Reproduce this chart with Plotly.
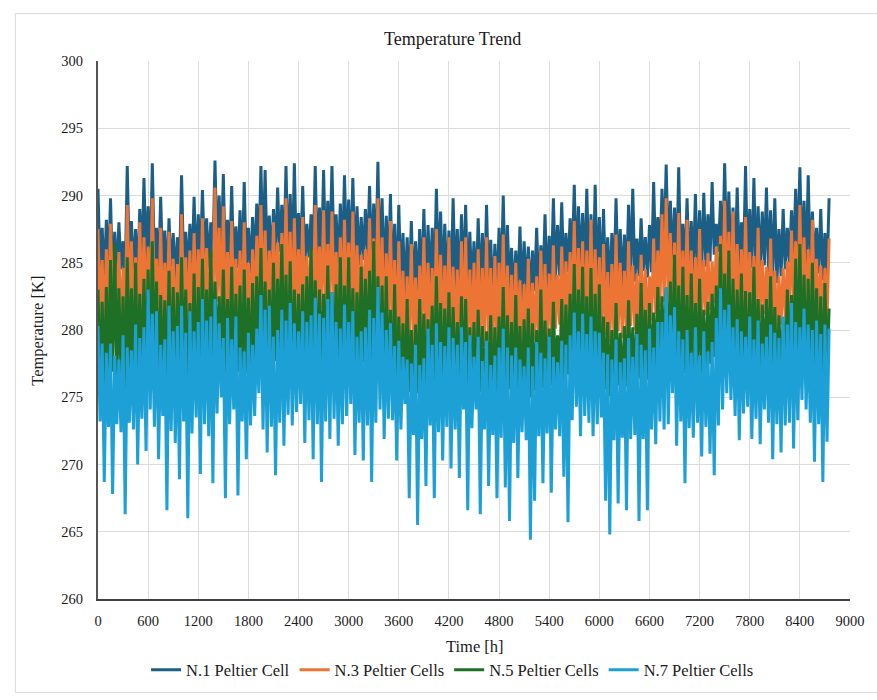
import plotly.graph_objects as go

STEP_H = 25

series_names = ["N.1 Peltier Cell", "N.3 Peltier Cells", "N.5 Peltier Cells", "N.7 Peltier Cells"]
series_colors = ["#1B5E86", "#EC7434", "#1E7026", "#1CA0D6"]

x_ticks = [0, 600, 1200, 1800, 2400, 3000, 3600, 4200, 4800, 5400, 6000, 6600, 7200, 7800, 8400, 9000]
y_ticks = [260, 265, 270, 275, 280, 285, 290, 295, 300]

n1_high = [
    290.5, 287.6, 288.2, 289.8, 287.3, 288.0, 286.6, 292.2,
    288.1, 287.5, 289.0, 291.3, 289.2, 292.4, 287.6, 289.9,
    287.4, 288.3, 287.2, 286.9, 291.5, 287.3, 287.9, 289.9,
    288.6, 290.4, 288.3, 288.0, 292.6, 290.0, 291.6, 288.2,
    290.7, 287.7, 288.9, 291.0, 287.6, 288.4, 289.4, 292.2,
    291.9, 288.5, 289.0, 290.6, 289.3, 292.2, 290.1, 292.4,
    288.7, 290.7, 287.9, 288.6, 292.2, 289.1, 291.9, 289.6,
    292.2, 288.6, 289.4, 291.5, 289.7, 291.3, 289.2, 288.4,
    289.0, 290.7, 289.4, 292.5, 289.8, 288.5, 290.1, 287.9,
    289.3, 287.2, 286.9, 288.1, 286.6, 287.5, 289.0, 287.8,
    287.6, 290.5, 288.8, 287.9, 287.4, 289.8, 287.5, 288.6,
    289.3, 287.3, 286.6, 288.3, 287.2, 289.3, 286.7, 286.4,
    287.6, 290.0, 287.8, 286.1, 285.9, 287.7, 286.6, 286.2,
    285.9, 287.6, 286.3, 288.6, 287.0, 289.8, 287.8, 289.5,
    287.2, 288.3, 290.8, 289.2, 288.7, 290.5, 288.6, 290.8,
    288.4, 289.0, 286.9, 287.2, 289.8, 287.5, 287.1, 289.3,
    290.5, 286.8, 288.3, 286.9, 287.8, 291.0, 288.4, 290.5,
    292.3, 289.6, 289.1, 292.1, 287.9, 289.8, 288.1, 290.1,
    288.9, 290.2, 288.6, 291.0, 287.9, 289.6, 292.4, 290.3,
    289.1, 290.6, 288.0, 292.2, 289.0, 291.3, 289.2, 288.8,
    290.6, 288.9, 289.8, 287.5, 289.0, 287.6, 288.9, 290.5,
    292.1, 289.6, 291.5, 288.8, 287.6, 289.0, 287.2, 289.8,
]
n1_low = [
    284.3, 283.6, 284.1, 283.4, 283.9, 284.5, 283.6, 284.8,
    284.2, 283.8, 284.6, 285.0, 284.4, 284.9, 283.9, 284.3,
    283.5, 284.0, 283.7, 284.3, 284.7, 284.0, 284.4, 284.1,
    284.8, 285.1, 284.5, 285.3, 285.7, 285.0, 284.4, 284.9,
    284.1, 284.6, 283.9, 284.5, 284.2, 285.0, 285.4, 285.1,
    284.6, 285.0, 285.3, 285.8, 285.2, 284.7, 284.4, 284.9,
    285.2, 284.8, 285.4, 285.0, 284.5, 285.1, 284.7, 285.5,
    285.1, 284.6, 285.0, 285.3, 284.7, 284.3, 284.8, 285.2,
    285.5, 285.0, 284.5, 283.9, 283.3, 283.6, 282.9, 282.6,
    283.0, 282.5, 282.8, 282.4, 282.7, 283.2, 282.8, 283.4,
    283.1, 283.6, 283.0, 283.3, 282.7, 283.1, 282.6, 283.0,
    282.5, 282.9, 282.3, 282.8, 282.4, 282.9, 282.2, 282.7,
    283.1, 282.6, 283.0, 282.3, 282.7, 282.2, 282.8, 282.4,
    282.9, 282.5, 283.1, 282.7, 283.3, 283.7, 284.0, 283.6,
    284.3, 284.7, 284.2, 284.6, 284.0, 283.5, 283.0, 283.3,
    282.8, 283.2, 282.7, 283.1, 283.5, 283.0, 283.4, 283.9,
    283.6, 284.0, 284.4, 283.9, 284.3, 284.8, 285.3, 285.7,
    285.2, 284.7, 284.3, 283.9, 284.4, 283.8, 284.2, 283.9,
    284.3, 284.7, 285.1, 285.6, 285.8, 285.3, 284.9, 284.5,
    284.8, 284.4, 284.7, 284.2, 284.6, 284.1, 284.5, 284.8,
    284.3, 283.9, 283.5, 284.0, 284.5, 285.0, 285.5, 285.2,
    284.9, 284.5, 284.1, 284.6, 284.2, 283.7, 284.1,
]

n3_high = [
    287.5, 285.2, 286.0, 287.9, 285.1, 285.8, 284.6, 289.3,
    286.6, 285.4, 288.0, 286.9, 286.2, 289.8, 285.3, 287.6,
    285.0, 287.3, 285.3, 284.9, 288.6, 285.4, 285.9, 287.2,
    286.0, 288.3, 286.1, 285.4, 290.6, 287.6, 289.2, 285.8,
    288.1, 285.3, 285.9, 288.0, 285.0, 286.0, 287.0, 289.3,
    287.4, 285.9, 288.0, 286.5, 287.2, 289.8, 287.3, 288.3,
    286.0, 288.4, 285.5, 286.0, 289.3, 286.2, 288.9, 286.4,
    288.8, 285.8, 286.9, 288.2, 286.5, 288.8, 286.3, 285.6,
    286.0, 288.3, 286.8, 289.8, 286.9, 285.7, 288.1, 285.2,
    286.6, 284.4, 284.0, 286.4, 283.9, 284.8, 286.9, 285.0,
    284.6, 287.5, 285.6, 284.8, 286.9, 284.7, 284.5, 286.6,
    286.9, 284.5, 285.0, 286.0, 284.6, 286.9, 284.6, 285.5,
    285.0, 287.1, 284.8, 284.1, 285.0, 283.7, 283.4, 285.3,
    283.5, 284.0, 285.9, 284.9, 284.2, 286.3, 284.1, 286.2,
    285.1, 285.8, 288.1, 286.1, 286.6, 285.9, 288.2, 286.0,
    285.4, 286.4, 284.3, 284.9, 287.1, 285.0, 284.4, 286.6,
    284.8, 284.2, 285.6, 284.5, 284.0, 286.8, 285.9, 288.6,
    289.8, 287.2, 286.5, 288.7, 285.9, 288.2, 285.9, 285.4,
    287.5, 285.2, 285.7, 285.1, 286.2, 287.0, 289.6, 287.3,
    288.8, 286.4, 286.0, 288.4, 285.8, 285.5, 287.6, 285.2,
    284.7, 286.8, 284.4, 284.0, 284.6, 285.1, 287.4, 286.6,
    289.3, 286.9, 286.0, 288.2, 285.3, 284.8, 284.6, 286.8,
]
n3_low = [
    281.0, 280.1, 280.7, 281.4, 280.5, 279.9, 281.1, 281.5,
    280.8, 280.3, 281.2, 281.7, 281.0, 281.9, 280.6, 280.0,
    280.4, 280.9, 280.2, 280.7, 281.3, 280.5, 280.1, 280.8,
    281.4, 281.8, 281.1, 281.6, 282.1, 281.3, 280.7, 281.2,
    280.5, 281.1, 280.4, 280.9, 280.6, 281.3, 281.8, 281.5,
    281.0, 281.5, 281.9, 282.3, 281.7, 281.1, 280.8, 281.3,
    281.7, 281.2, 281.9, 281.5, 280.9, 281.6, 281.2, 281.9,
    281.5, 281.0, 281.4, 281.8, 281.1, 280.7, 281.2, 281.7,
    282.0, 281.5, 280.9, 280.3, 279.7, 280.1, 279.3, 279.0,
    279.4, 278.8, 279.2, 278.7, 279.1, 279.6, 279.2, 279.8,
    279.5, 280.0, 279.4, 279.7, 279.1, 279.5, 279.0, 279.4,
    278.9, 279.3, 278.7, 279.2, 278.8, 279.3, 278.6, 279.1,
    279.5, 279.0, 279.4, 278.7, 279.1, 278.6, 279.2, 278.8,
    279.3, 278.9, 279.5, 279.1, 279.7, 280.1, 280.4, 280.0,
    280.7, 281.1, 280.6, 281.0, 280.4, 279.9, 279.4, 279.7,
    279.2, 279.6, 279.1, 279.5, 279.9, 279.4, 279.8, 280.3,
    280.0, 280.4, 280.8, 280.3, 280.7, 281.2, 281.7, 282.1,
    281.6, 281.1, 280.7, 280.3, 280.8, 280.2, 280.6, 280.3,
    280.7, 281.1, 281.5, 282.0, 282.2, 281.7, 281.3, 280.9,
    281.2, 280.8, 281.1, 280.6, 281.0, 280.5, 280.9, 281.2,
    280.7, 280.3, 279.9, 280.4, 280.9, 281.4, 281.9, 281.6,
    281.3, 280.9, 280.5, 281.0, 280.6, 280.1, 280.5,
]

n5_high = [
    283.0, 282.1, 283.2, 285.2, 286.4, 283.1, 282.5, 285.4,
    283.1, 285.0, 282.7, 283.8, 284.5, 286.6, 283.6, 282.6,
    282.2, 284.4, 283.2, 282.8, 285.4, 283.0, 282.0, 284.2,
    283.2, 285.3, 283.0, 285.9, 283.6, 282.5, 284.5, 282.3,
    284.7, 282.7, 283.3, 284.5, 282.4, 283.5, 284.0, 286.1,
    283.6, 283.0, 285.0, 283.8, 286.4, 284.1, 285.1, 283.0,
    282.7, 283.4, 284.0, 286.1, 283.7, 283.0, 282.7, 284.8,
    282.8, 283.4, 285.4, 283.3, 285.4, 283.1, 282.8, 284.7,
    283.8, 284.4, 286.6, 284.0, 283.3, 284.0, 281.5, 283.4,
    281.0, 280.5, 282.3, 280.0, 280.4, 282.3, 281.2, 280.8,
    281.8, 284.0, 282.0, 281.6, 282.8, 281.7, 280.6, 282.5,
    282.3, 280.2, 280.6, 281.5, 280.3, 279.9, 281.1, 280.2,
    281.0, 283.2, 281.1, 280.6, 282.6, 280.3, 280.8, 281.6,
    280.5, 280.0, 283.0, 280.7, 280.1, 282.1, 279.6, 282.3,
    281.9, 282.7, 284.9, 283.0, 284.7, 282.5, 284.6, 282.7,
    283.4, 281.0, 280.6, 280.0, 282.0, 279.8, 280.3, 282.2,
    280.2, 281.2, 283.5, 281.5, 282.0, 281.3, 283.2, 282.5,
    283.1, 283.6, 285.6, 283.3, 284.7, 282.6, 284.2, 282.0,
    283.8, 281.5, 282.1, 282.7, 283.3, 286.4, 284.2, 285.9,
    283.8, 283.0, 284.2, 282.9, 282.8, 284.7, 282.3, 281.9,
    282.3, 284.0, 281.7, 281.1, 280.9, 283.0, 282.6, 285.3,
    286.4, 284.1, 283.8, 285.0, 283.1, 282.5, 283.5, 281.6,
]
n5_low = [
    276.5, 275.8, 276.3, 276.9, 276.1, 276.7, 275.5, 277.1,
    276.4, 276.0, 276.8, 277.3, 276.6, 277.2, 276.1, 276.5,
    275.7, 276.3, 275.9, 276.6, 277.0, 276.2, 276.7, 276.3,
    277.1, 277.4, 276.8, 277.7, 278.1, 277.3, 276.7, 277.2,
    276.4, 276.9, 276.2, 276.8, 276.5, 277.3, 277.8, 277.5,
    276.9, 277.3, 277.7, 278.2, 277.6, 277.0, 276.7, 277.2,
    277.6, 277.1, 277.8, 277.4, 276.8, 277.5, 277.1, 277.9,
    277.5, 276.9, 277.2, 277.7, 277.0, 276.6, 277.1, 277.6,
    278.0, 277.4, 276.9, 276.3, 275.7, 276.2, 275.5, 275.1,
    275.6, 275.0, 275.4, 274.8, 275.3, 275.9, 275.5, 276.1,
    275.7, 276.2, 275.6, 276.0, 275.4, 275.8, 275.3, 275.7,
    275.1, 275.6, 274.9, 275.4, 275.0, 275.5, 274.8, 275.3,
    275.7, 275.2, 275.6, 274.9, 275.3, 274.8, 275.4, 275.0,
    275.5, 275.1, 275.7, 275.3, 275.9, 276.2, 276.5, 276.1,
    276.7, 277.1, 276.6, 277.0, 276.4, 275.9, 275.4, 275.7,
    275.2, 275.6, 275.1, 275.5, 275.9, 275.4, 275.8, 276.3,
    276.0, 276.4, 276.8, 276.3, 276.7, 277.2, 277.7, 278.1,
    277.6, 277.1, 276.7, 276.3, 276.8, 276.2, 276.6, 276.3,
    276.7, 277.1, 277.5, 278.0, 278.2, 277.7, 277.3, 276.9,
    277.2, 276.8, 277.1, 276.6, 277.0, 276.5, 276.9, 277.2,
    276.7, 276.3, 275.9, 276.4, 276.9, 277.4, 277.9, 277.6,
    277.3, 276.9, 276.5, 277.0, 276.6, 276.1, 276.5,
]

n7_high = [
    280.3, 279.0, 278.3, 279.0, 278.1, 277.8, 279.6, 278.7,
    278.5, 280.4, 279.4, 280.2, 283.0, 281.2, 281.4, 278.9,
    279.3, 281.8, 279.9, 280.3, 281.8, 279.8, 281.4, 279.9,
    280.6, 282.3, 280.7, 281.0, 282.3, 280.5, 279.4, 280.9,
    279.3, 281.0, 278.7, 278.4, 279.8, 278.9, 280.1, 282.6,
    281.5, 281.8, 279.5, 280.0, 281.5, 280.7, 282.0, 280.5,
    279.9, 281.4, 280.6, 281.1, 282.4, 281.2, 280.9, 282.3,
    282.8, 280.6, 280.1, 281.9, 280.6, 281.4, 279.5, 279.9,
    280.2, 281.5, 280.9, 283.2, 281.3, 280.0, 280.5, 278.8,
    279.2, 278.0, 277.8, 277.5, 278.9, 277.4, 277.9, 280.1,
    278.9, 280.5, 279.1, 278.8, 280.2, 279.4, 278.9, 280.2,
    279.1, 279.6, 278.0, 279.5, 277.7, 279.2, 277.4, 278.1,
    278.7, 280.1, 278.7, 278.1, 278.7, 277.8, 277.3, 278.7,
    277.3, 279.1, 278.3, 277.9, 279.5, 278.0, 277.6, 279.2,
    278.9, 279.6, 281.3, 279.9, 281.2, 279.7, 281.0, 279.9,
    279.8, 278.3, 278.2, 277.8, 279.3, 277.6, 277.9, 279.4,
    278.0, 279.7, 278.9, 278.5, 280.1, 278.7, 280.6, 280.6,
    283.2, 281.1, 281.7, 279.9, 279.3, 280.0, 278.3, 280.2,
    278.1, 279.9, 278.4, 279.1, 280.9, 283.1, 281.5, 281.9,
    280.2, 280.8, 279.9, 279.5, 281.0, 279.3, 280.7, 279.0,
    279.5, 280.4, 279.8, 279.4, 281.0, 280.4, 282.0, 280.6,
    280.2, 281.6, 280.4, 280.0, 280.7, 279.7, 280.4, 280.1,
]
n7_low = [
    273.2, 268.7, 272.8, 267.8, 273.0, 272.4, 266.3, 273.1,
    272.6, 270.0, 273.4, 271.0, 274.1, 272.8, 270.4, 273.6,
    266.6, 272.5, 271.6, 268.9, 273.2, 266.0, 272.3, 273.5,
    269.3, 273.0, 272.1, 268.6, 273.8, 275.0, 267.5, 273.0,
    274.1, 267.7, 273.2, 270.4, 272.9, 273.6, 275.3, 272.6,
    270.9, 272.8, 269.2, 273.1, 271.4, 273.7, 272.9, 273.9,
    274.5, 271.6, 273.3, 270.4, 273.0, 268.7, 273.2, 271.9,
    273.4, 271.4, 273.0, 273.6, 274.5, 270.7, 273.1, 270.3,
    272.9, 268.7, 273.1, 274.1, 271.9, 273.4, 273.3, 270.3,
    272.6, 274.5, 267.5, 272.2, 265.5, 271.9, 268.4, 272.9,
    267.5, 272.4, 270.3, 272.8, 269.7, 272.6, 269.0, 274.1,
    266.6, 272.7, 274.1, 266.3, 272.6, 268.4, 272.2, 267.5,
    272.0, 268.3, 265.8, 271.6, 269.0, 272.4, 271.8, 264.4,
    267.3, 272.1, 268.6, 272.3, 267.9, 272.6, 272.1, 269.1,
    265.7, 273.3, 274.3, 272.1, 273.6, 273.1, 272.1, 273.0,
    273.5, 267.3, 264.8, 271.8, 267.1, 272.0, 266.6, 271.9,
    272.2, 265.8, 271.9, 266.6, 272.6, 271.5, 273.2, 272.6,
    273.0, 275.3, 271.4, 273.2, 268.6, 272.7, 272.0, 273.1,
    270.6, 272.8, 270.8, 269.2, 272.9, 274.1, 275.3, 274.8,
    273.6, 271.8, 273.8, 274.3, 271.9, 273.4, 271.5, 274.1,
    273.1, 270.4, 273.0, 270.9, 272.9, 273.1, 271.2, 273.3,
    274.8, 274.1, 273.1, 270.2, 273.0, 268.7, 271.7,
]

highs = [n1_high, n3_high, n5_high, n7_high]
lows = [n1_low, n3_low, n5_low, n7_low]


def interleave(hi, lo):
    out = []
    for i, v in enumerate(hi):
        out.append(v)
        if i < len(lo):
            out.append(lo[i])
    return out


# geometry (pixels) of the 877x700 canvas
W, H = 877, 700
ML, MR, MT, MB = 98, 24, 61, 86
PW, PH = W - ML - MR, H - MT - MB


def px_x(p):
    return (p - ML) / PW


def px_y(p):
    return (H - MB - p) / PH


FONT = "Times New Roman, Liberation Serif, DejaVu Serif, serif"
TXT = "#1a1a1a"

fig = go.Figure()
for name, color, hi, lo in zip(series_names, series_colors, highs, lows):
    vals = interleave(hi, lo)
    hours = [i * STEP_H for i in range(len(vals))]
    fig.add_trace(go.Scatter(
        x=hours, y=vals, mode="lines", name=name,
        line=dict(color=color, width=3.0),
    ))

fig.update_layout(
    width=W, height=H,
    margin=dict(l=ML, r=MR, t=MT, b=MB),
    paper_bgcolor="white", plot_bgcolor="white",
    font=dict(family=FONT, size=14.5, color=TXT),
    showlegend=True,
    legend=dict(
        orientation="h", x=px_x(454), y=px_y(687), xanchor="center", yanchor="middle",
        font=dict(family=FONT, size=16.5, color=TXT),
        itemwidth=30, tracegroupgap=0, bgcolor="rgba(0,0,0,0)",
    ),
    xaxis=dict(
        range=[0, 9000], tickvals=x_ticks, ticktext=[str(v) for v in x_ticks],
        showgrid=True, gridcolor="#DCDCDC", gridwidth=1,
        showline=True, linecolor="#404040", linewidth=2,
        zeroline=False, ticks="", ticklabelstandoff=8,
        tickfont=dict(family=FONT, size=14.5, color=TXT),
    ),
    yaxis=dict(
        range=[260, 300], tickvals=y_ticks, ticktext=[str(v) for v in y_ticks],
        showgrid=True, gridcolor="#DCDCDC", gridwidth=1,
        showline=True, linecolor="#555555", linewidth=2,
        zeroline=False, ticks="", ticklabelstandoff=10,
        tickfont=dict(family=FONT, size=14.5, color=TXT),
    ),
    shapes=[dict(
        type="rect", xref="paper", yref="paper",
        x0=px_x(15), x1=px_x(890), y0=px_y(710), y1=px_y(12.3),
        line=dict(color="#D9D9D9", width=1), fillcolor="rgba(0,0,0,0)", layer="below",
    )],
    annotations=[
        dict(text="Temperature Trend", xref="paper", yref="paper",
             x=px_x(454), y=px_y(38), showarrow=False, xanchor="center", yanchor="middle",
             font=dict(family=FONT, size=18, color=TXT)),
        dict(text="Time [h]", xref="paper", yref="paper",
             x=px_x(477), y=px_y(663), showarrow=False, xanchor="center", yanchor="middle",
             font=dict(family=FONT, size=16.5, color=TXT)),
        dict(text="Temperature [K]", xref="paper", yref="paper", textangle=-90,
             x=px_x(37), y=px_y(338), showarrow=False, xanchor="center", yanchor="middle",
             font=dict(family=FONT, size=16.5, color=TXT)),
    ],
)

fig.write_html("out.html")
